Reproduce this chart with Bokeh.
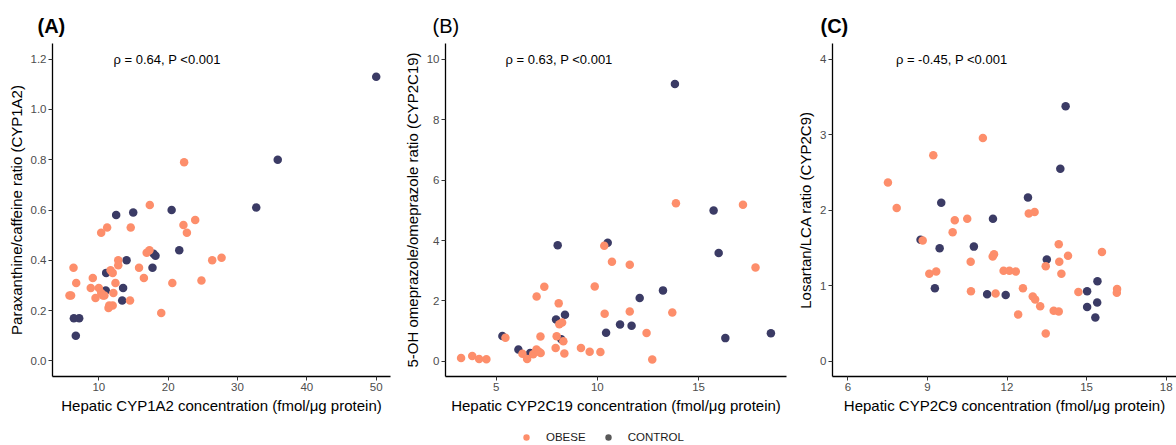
from bokeh.plotting import figure
from bokeh.layouts import row, column
from bokeh.models import Range1d, Label, Legend, LegendItem, FixedTicker, NumeralTickFormatter
from bokeh.embed import file_html
from bokeh.resources import INLINE

FONT = "Liberation Sans"
OBESE_COLOR = "#FD8E6B"
CONTROL_COLOR = "#3B3B65"
LEGEND_CONTROL = "#595959"

# ---------------- data ----------------
groups = ["OBESE", "CONTROL"]

a_obese_x = [22.3, 17.35, 11.2, 10.34, 14.6, 22.2, 23.9, 22.7, 16.9, 17.3, 12.8, 12.8, 11.7, 12.0, 15.8,
             6.35, 6.74, 9.13, 12.4, 16.5, 20.6, 24.8, 26.35, 27.7, 8.84, 10.0, 10.34, 10.6, 9.52, 12.1,
             5.77, 6.0, 11.5, 12.0, 11.4, 14.5, 19.0, 10.8]
a_obese_y = [0.79, 0.62, 0.53, 0.51, 0.53, 0.54, 0.56, 0.51, 0.43, 0.44, 0.40, 0.38, 0.36, 0.35, 0.37,
             0.37, 0.31, 0.33, 0.31, 0.33, 0.31, 0.32, 0.40, 0.41, 0.29, 0.29, 0.27, 0.26, 0.25, 0.27,
             0.26, 0.26, 0.22, 0.22, 0.21, 0.24, 0.19, 0.26]
a_control_x = [50.0, 35.8, 32.7, 20.5, 21.6, 12.5, 14.96, 17.9, 18.17, 14.0, 17.74, 11.06, 11.0, 13.5,
               13.37, 6.4, 7.17, 6.68]
a_control_y = [1.13, 0.80, 0.61, 0.60, 0.44, 0.58, 0.59, 0.426, 0.418, 0.40, 0.37, 0.35, 0.28, 0.29,
               0.24, 0.17, 0.17, 0.10]

b_obese_x = [3.27, 3.82, 4.16, 4.52, 5.46, 6.30, 6.53, 6.83, 6.99, 7.10, 7.20, 7.19, 7.0, 7.38, 8.09,
             8.12, 8.26, 7.99, 8.32, 7.94, 8.37, 9.19, 9.62, 10.15, 9.87, 10.34, 10.72, 11.6, 10.36, 11.6,
             12.43, 12.71, 13.88, 17.19, 17.81, 13.7]
b_obese_y = [0.11, 0.18, 0.08, 0.07, 0.78, 0.25, 0.08, 0.24, 0.39, 0.33, 0.28, 0.82, 2.15, 2.47, 1.92,
             1.23, 1.29, 0.83, 0.67, 0.44, 0.26, 0.44, 0.32, 0.31, 2.48, 3.83, 3.30, 3.2, 1.58, 1.65,
             0.94, 0.06, 5.23, 5.18, 3.11, 1.62]
b_control_x = [13.83, 15.74, 15.99, 13.24, 12.09, 11.12, 11.69, 10.43, 10.51, 8.04, 7.96, 8.40, 8.22,
               16.32, 18.57, 5.31, 6.1, 6.68]
b_control_y = [9.18, 4.99, 3.59, 2.35, 2.1, 1.22, 1.18, 0.95, 3.93, 3.84, 1.39, 1.54, 0.73, 0.77, 0.93,
               0.84, 0.39, 0.28]

c_obese_x = [7.51, 7.84, 9.22, 11.09, 8.82, 9.07, 9.33, 9.95, 10.03, 10.5, 10.63, 10.64, 11.46, 11.51,
             11.57, 11.87, 12.09, 12.33, 12.42, 12.6, 12.82, 13.04, 12.97, 13.06, 13.25, 13.46, 13.46,
             13.76, 13.95, 13.95, 13.97, 14.05, 14.3, 14.69, 15.58, 16.15, 16.14]
c_obese_y = [2.37, 2.03, 2.73, 2.96, 1.60, 1.16, 1.19, 1.71, 1.87, 1.89, 1.32, 0.93, 1.39, 1.42, 0.90,
             1.20, 1.20, 1.19, 0.62, 0.97, 1.96, 1.98, 0.86, 0.82, 0.73, 1.26, 0.37, 0.67, 0.66, 1.55,
             1.32, 1.16, 1.40, 0.92, 1.45, 0.96, 0.91]
c_control_x = [14.21, 14.01, 12.79, 9.52, 11.47, 8.74, 9.46, 10.75, 13.5, 9.28, 11.25, 11.95, 15.02,
               15.41, 15.40, 15.02, 15.33]
c_control_y = [3.38, 2.55, 2.17, 2.10, 1.89, 1.61, 1.50, 1.52, 1.35, 0.97, 0.89, 0.88, 0.93, 1.06,
               0.78, 0.72, 0.58]

a_xticks = [10, 20, 30, 40, 50]
a_yticks = [0.0, 0.2, 0.4, 0.6, 0.8, 1.0, 1.2]
b_xticks = [5, 10, 15]
b_yticks = [0, 2, 4, 6, 8, 10]
c_xticks = [6, 9, 12, 15, 18]
c_yticks = [0, 1, 2, 3, 4]

a_xlabel = "Hepatic CYP1A2 concentration (fmol/\u03bcg protein)"
a_ylabel = "Paraxanthine/caffeine ratio (CYP1A2)"
b_xlabel = "Hepatic CYP2C19 concentration (fmol/\u03bcg protein)"
b_ylabel = "5-OH omeprazole/omeprazole ratio (CYP2C19)"
c_xlabel = "Hepatic CYP2C9 concentration (fmol/\u03bcg protein)"
c_ylabel = "Losartan/LCA ratio (CYP2C9)"

a_stat = "\u03c1 = 0.64, P <0.001"
b_stat = "\u03c1 = 0.63, P <0.001"
c_stat = "\u03c1 = -0.45, P <0.001"

ROW_H = 429
LEG_H = 16
TOP = 43
FRAME_H = 333


def make_panel(width, left, right, xr, yr, xticks, yticks, yfmt, xlabel, ylabel,
               tag, tag_style, tag_dx, stat, stat_x, stat_y, ox, oy, cx, cy):
    p = figure(width=width, height=ROW_H, x_range=Range1d(*xr), y_range=Range1d(*yr),
               output_backend="svg", toolbar_location=None,
               min_border_left=left, min_border_right=right,
               min_border_top=TOP, min_border_bottom=ROW_H - TOP - FRAME_H)
    p.xgrid.visible = False
    p.ygrid.visible = False
    p.outline_line_color = None
    p.background_fill_color = "white"
    p.border_fill_color = "white"

    p.title.text = tag
    p.title.align = "left"
    p.title.offset = tag_dx
    p.title.text_font = FONT
    p.title.text_font_size = "20px"
    p.title.text_font_style = tag_style
    p.title.text_color = "black"
    p.title.standoff = 14

    p.xaxis.ticker = FixedTicker(ticks=xticks)
    p.yaxis.ticker = FixedTicker(ticks=yticks)
    p.yaxis.formatter = NumeralTickFormatter(format=yfmt)
    p.xaxis.axis_label = xlabel
    p.yaxis.axis_label = ylabel
    for ax in (p.xaxis[0], p.yaxis[0]):
        ax.axis_line_color = "black"
        ax.axis_line_width = 1.3
        ax.major_tick_line_color = "#333333"
        ax.major_tick_line_width = 1
        ax.major_tick_out = 4
        ax.major_tick_in = 0
        ax.minor_tick_line_color = None
        ax.major_label_text_font = FONT
        ax.major_label_text_font_size = "11.5px"
        ax.major_label_text_color = "#4D4D4D"
        ax.major_label_standoff = 2
        ax.axis_label_text_font = FONT
        ax.axis_label_text_font_size = "15px"
        ax.axis_label_text_font_style = "normal"
        ax.axis_label_text_color = "black"
        ax.axis_label_standoff = 3

    p.scatter(cx, cy, size=8.5, color=CONTROL_COLOR, line_color=None)
    p.scatter(ox, oy, size=8.5, color=OBESE_COLOR, line_color=None)

    p.add_layout(Label(x=stat_x, y=stat_y, text=stat, text_font=FONT, text_font_size="13px",
                       text_color="black", text_align="left", text_baseline="middle"))
    return p


fa = make_panel(400, 52, 10, (3.32, 52.06), (-0.062, 1.262), a_xticks, a_yticks, "0.0",
                a_xlabel, a_ylabel, "(A)", "bold", -15, a_stat, 12.12, 1.2,
                a_obese_x, a_obese_y, a_control_x, a_control_y)
fb = make_panel(390, 44, 4, (2.5, 19.34), (-0.5, 10.52), b_xticks, b_yticks, "0",
                b_xlabel, b_ylabel, "(B)", "normal", -13, b_stat, 5.46, 10,
                b_obese_x, b_obese_y, b_control_x, b_control_y)
fc = make_panel(386, 42, 0, (5.42, 18.39), (-0.2, 4.21), c_xticks, c_yticks, "0",
                c_xlabel, c_ylabel, "(C)", "bold", -12, c_stat, 7.81, 4,
                c_obese_x, c_obese_y, c_control_x, c_control_y)

# legend strip along the bottom (key glyphs only; renderers hold no visible data)
nan = float("nan")
leg = figure(width=1176, height=LEG_H, x_range=Range1d(0, 1), y_range=Range1d(0, 1),
             output_backend="svg", toolbar_location=None, min_border=0,
             x_axis_location=None, y_axis_location=None)
leg.grid.visible = False
leg.outline_line_color = None
lo = leg.scatter(x=[nan], y=[nan], size=7, color=OBESE_COLOR, line_color=None)
lc = leg.scatter(x=[nan], y=[nan], size=7, color=LEGEND_CONTROL, line_color=None)
legend = Legend(items=[LegendItem(label=groups[0], renderers=[lo]),
                       LegendItem(label=groups[1], renderers=[lc])],
                location=(518, 0), orientation="horizontal",
                border_line_color=None, background_fill_alpha=0,
                padding=0, margin=0, spacing=14,
                glyph_width=16, glyph_height=16, label_height=16, label_standoff=12,
                label_text_font=FONT, label_text_font_size="11.5px",
                label_text_color="#1A1A1A", label_text_baseline="middle")
leg.add_layout(legend, "center")

layout = column(row(fa, fb, fc), leg)
open("out.html", "w").write(file_html(layout, INLINE))
